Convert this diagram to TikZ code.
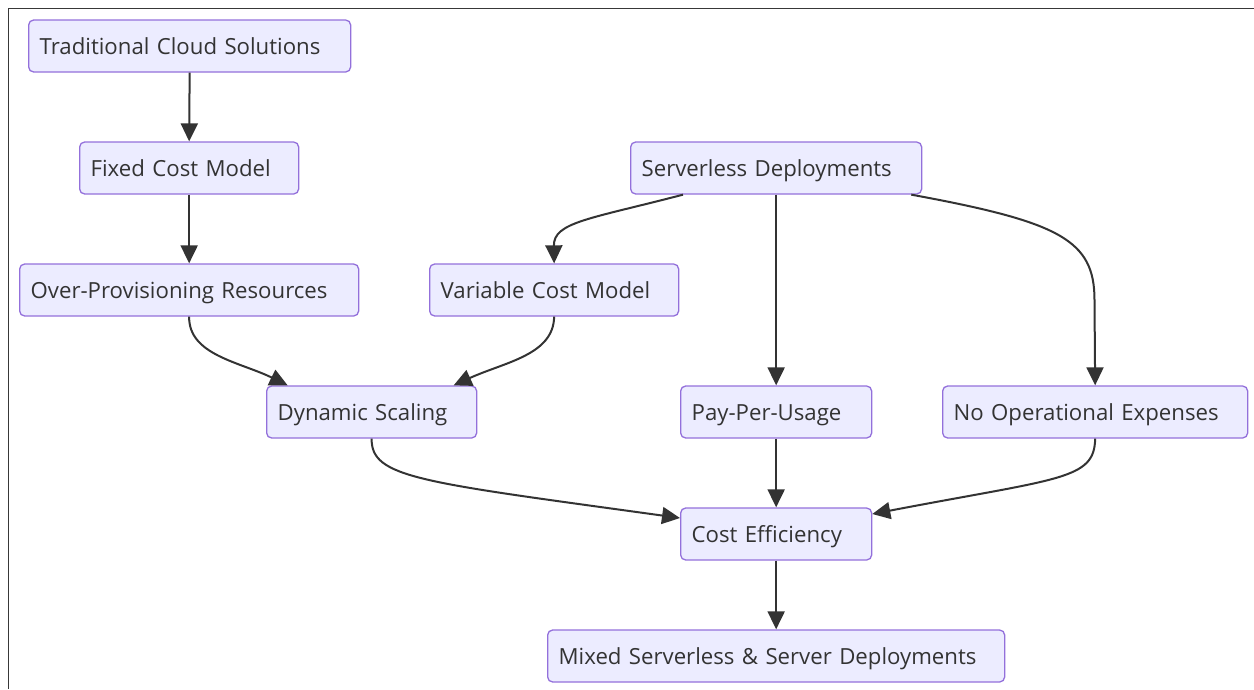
\documentclass[tikz,border=0pt]{standalone}
\usepackage{fontspec}
\setmainfont{Open Sans}
\usetikzlibrary{arrows.meta,calc}
\definecolor{boxfill}{HTML}{ECECFF}
\definecolor{boxline}{HTML}{9370DB}
\definecolor{ink}{HTML}{333333}
\tikzset{
  box/.style={draw=boxline, fill=boxfill, line width=1.3pt, rounded corners=5pt,
    minimum height=52pt, inner xsep=11pt, inner ysep=0pt, anchor=west,
    align=left, text width=#1, text height=16pt, text depth=0pt,
    text=ink, font=\fontsize{22.2}{26}\selectfont},
  flow/.style={draw=ink, line width=2pt, -{Triangle[length=18pt,width=17pt]}},
}
\begin{document}
\begin{tikzpicture}[x=1pt, y=-1pt]
\useasboundingbox (0,0) rectangle (1254,689);
% outer frame (top and left edges)
\draw[line width=1.8pt, black!78] (1254,8.5) -- (8.5,8.5) -- (8.5,689);

% nodes
\node[box=300pt] (tcs) at (28,46)  {Traditional Cloud Solutions};
\node[box=197pt] (fcm) at (79,168) {Fixed Cost Model};
\node[box=317pt] (opr) at (19,290) {Over-Provisioning Resources};
\node[box=227pt] (vcm) at (429,290) {Variable Cost Model};
\node[box=269pt] (sd)  at (630,168) {Serverless Deployments};
\node[box=188pt] (ds)  at (266,412) {Dynamic Scaling};
\node[box=169pt] (ppu) at (680,412) {Pay-Per-Usage};
\node[box=283pt] (noe) at (942,412) {No Operational Expenses};
\node[box=169pt] (ce)  at (680,534) {Cost Efficiency};
\node[box=435pt] (mix) at (547,656) {Mixed Serverless \& Server Deployments};

% connectors
\draw[flow] (tcs.south) -- (fcm.south |- fcm.north);
\draw[flow] (fcm.south) -- (fcm.south |- opr.north);
\draw[flow] ($(sd.south west)+(53,0)$) .. controls (590,219) and (553.5,222) .. (vcm.north);
\draw[flow] (sd.south) -- (ppu.north);
\draw[flow] ($(sd.south east)+(-11,0)$) .. controls (1060,222) and (1094.5,240) .. (1094.5,300) -- (noe.north);
\draw[flow] (opr.south) .. controls (188.5,355) and (240,362) .. ($(ds.north)+(-84,0)$);
\draw[flow] (vcm.south) .. controls (553.5,355) and (505,362) .. ($(ds.north)+(82,0)$);
\draw[flow] (ds.south) .. controls (371,478) and (420,482) .. ($(ce.west)+(0,-16)$);
\draw[flow] (ppu.south) -- (ce.north);
\draw[flow] (noe.south) .. controls (1094.5,480) and (1060,478) .. ($(ce.east)+(0,-20)$);
\draw[flow] (ce.south) -- (mix.north);
\end{tikzpicture}
\end{document}
